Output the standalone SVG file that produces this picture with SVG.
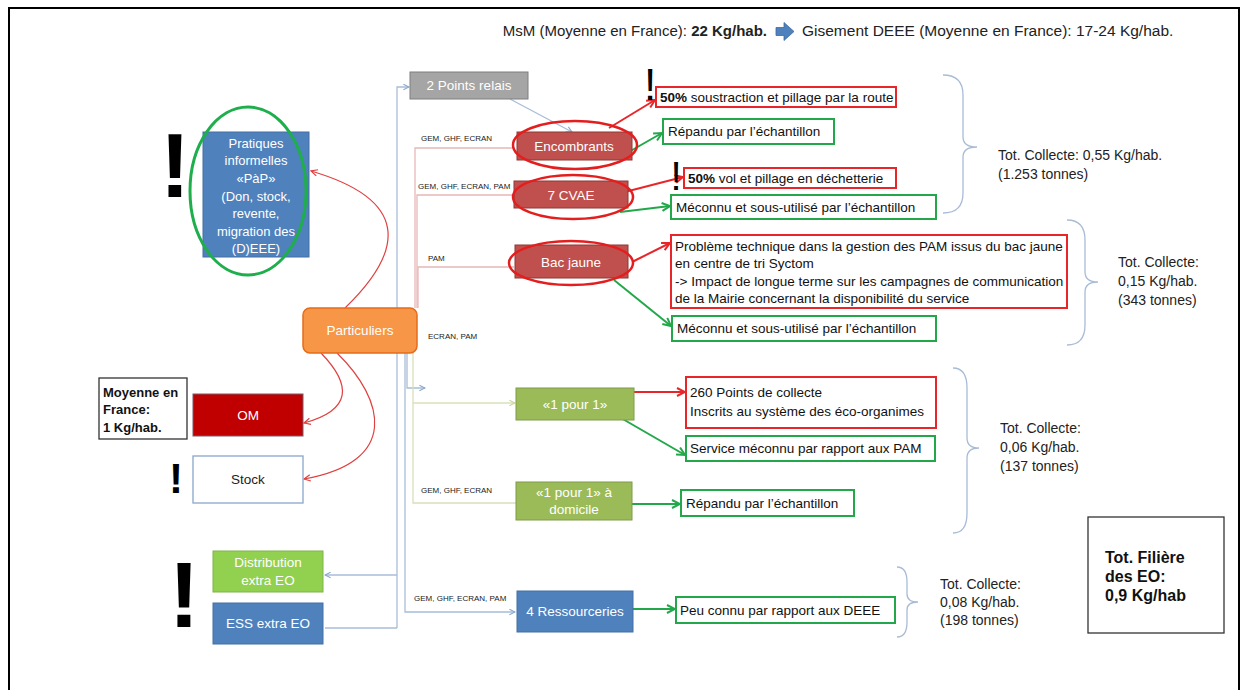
<svg xmlns="http://www.w3.org/2000/svg" width="1245" height="690" viewBox="0 0 1245 690">
<defs>
<style>
text{font-family:"Liberation Sans",Arial,sans-serif;}
.lbl{font-size:13.5px;fill:#fff;text-anchor:middle;}
.plbl{font-size:13px;fill:#fff;text-anchor:middle;}
.box{font-size:13.5px;fill:#111;}
.small{font-size:8px;fill:#222;}
.tot{font-size:14px;fill:#222;}
.red{fill:#fff;stroke:#e8262a;stroke-width:2;}
.grn{fill:#fff;stroke:#22a84a;stroke-width:2;}
.ell{fill:none;stroke:#e41e1e;stroke-width:2.5;}
.brace{fill:none;stroke:#a9bcd6;stroke-width:1.3;}
.bang{font-weight:bold;fill:#000;text-anchor:middle;}
.ar{fill:none;stroke:#e8262a;stroke-width:2;}
.ag{fill:none;stroke:#22a84a;stroke-width:2;}
.cr{fill:none;stroke:#e04040;stroke-width:1.2;}
.lb{fill:none;stroke:#a8bdd8;stroke-width:1.3;}
.lp{fill:none;stroke:#e6b8b8;stroke-width:1.3;}
.lo{fill:none;stroke:#d8e0b8;stroke-width:1.3;}
</style>
<marker id="mr" viewBox="0 0 10 10" refX="9" refY="5" markerWidth="10" markerHeight="10" markerUnits="userSpaceOnUse" orient="auto"><path d="M1,1 L9,5 L1,9" fill="none" stroke="#e8262a" stroke-width="2"/></marker>
<marker id="mg" viewBox="0 0 10 10" refX="9" refY="5" markerWidth="10" markerHeight="10" markerUnits="userSpaceOnUse" orient="auto"><path d="M1,1 L9,5 L1,9" fill="none" stroke="#22a84a" stroke-width="2"/></marker>
<marker id="mc" viewBox="0 0 10 10" refX="9" refY="5" markerWidth="8" markerHeight="8" markerUnits="userSpaceOnUse" orient="auto"><path d="M1,1 L9,5 L1,9" fill="none" stroke="#e04040" stroke-width="1.5"/></marker>
<marker id="mb" viewBox="0 0 10 10" refX="9" refY="5" markerWidth="7" markerHeight="7" markerUnits="userSpaceOnUse" orient="auto"><path d="M1,1 L9,5 L1,9" fill="none" stroke="#8aa6cc" stroke-width="1.5"/></marker>
<marker id="mo" viewBox="0 0 10 10" refX="9" refY="5" markerWidth="7" markerHeight="7" markerUnits="userSpaceOnUse" orient="auto"><path d="M1,1 L9,5 L1,9" fill="none" stroke="#c8d4a0" stroke-width="1.5"/></marker>
</defs>
<rect x="0" y="0" width="1245" height="690" fill="#fff"/>
<rect id="frame" x="9" y="8" width="1230" height="700" fill="none" stroke="#000" stroke-width="2"/>

<g id="header">
<text x="767" y="36" font-size="15" fill="#222" text-anchor="end">MsM (Moyenne en France): <tspan font-weight="bold">22 Kg/hab.</tspan></text>
<path d="M776,27.5 H784 V22.5 L794,31.5 L784,40.5 V35.5 H776 Z" fill="#4f81bd" stroke="#3c6aa3" stroke-width="0.8"/>
<text x="802" y="36" font-size="15.5" fill="#222">Gisement DEEE (Moyenne en France): 17-24 Kg/hab.</text>
</g>

<g id="connectors">
<path class="lb" d="M397,628 V87 H409" marker-end="url(#mb)"/>
<path class="lb" d="M397,575 H325" marker-end="url(#mb)"/>
<path class="lb" d="M397,628 H325"/>
<path class="lb" d="M510,99 L572,132" marker-end="url(#mb)"/>
<path class="lb" d="M405,353 V612 H515" marker-end="url(#mb)"/>
<path class="lb" d="M407,353 V388 H425" marker-end="url(#mb)"/>
<path class="lo" d="M413,353 V503 H516"/>
<path class="lo" d="M413,403 H515" marker-end="url(#mo)"/>
<path class="lp" d="M415,308 V148 H512"/>
<path class="lp" d="M417,308 V195 H513"/>
<path class="lp" d="M418,308 V267 H514"/>
<path class="cr" d="M345,308 C405,250 410,200 311,171" marker-end="url(#mc)"/>
<path class="cr" d="M321,353 C352,385 352,410 304,423" marker-end="url(#mc)"/>
<path class="cr" d="M337,353 C385,400 400,462 304,479" marker-end="url(#mc)"/>
<path class="ar" d="M609,128 L655,100" marker-end="url(#mr)"/>
<path class="ag" d="M620,157 L662,133" marker-end="url(#mg)"/>
<path class="ar" d="M617,194 L683,177" marker-end="url(#mr)"/>
<path class="ag" d="M620,212 L670,206" marker-end="url(#mg)"/>
<path class="ar" d="M632,262 L670,243" marker-end="url(#mr)"/>
<path class="ag" d="M614,280 L671,326" marker-end="url(#mg)"/>
<path class="ar" d="M634,392 L685,392" marker-end="url(#mr)"/>
<path class="ag" d="M621,418 L685,455" marker-end="url(#mg)"/>
<path class="ag" d="M621,504 L680,504" marker-end="url(#mg)"/>
<path class="ag" d="M633,609 L675,609" marker-end="url(#mg)"/>
</g>

<g id="labels">
<text class="small" x="421" y="141">GEM, GHF, ECRAN</text>
<text class="small" x="418" y="189">GEM, GHF, ECRAN, PAM</text>
<text class="small" x="428" y="261">PAM</text>
<text class="small" x="428" y="339">ECRAN, PAM</text>
<text class="small" x="421" y="493">GEM, GHF, ECRAN</text>
<text class="small" x="414" y="601">GEM, GHF, ECRAN, PAM</text>
</g>

<g id="pratiques">
<rect x="203" y="132" width="106" height="125" fill="#4f81bd" stroke="#456fa3" stroke-width="1"/>
<text class="plbl" x="256" y="148">Pratiques</text>
<text class="plbl" x="256" y="165">informelles</text>
<text class="plbl" x="256" y="183">«PàP»</text>
<text class="plbl" x="256" y="201">(Don, stock,</text>
<text class="plbl" x="256" y="218">revente,</text>
<text class="plbl" x="256" y="236">migration des</text>
<text class="plbl" x="256" y="253">(D)EEE)</text>
<ellipse cx="248" cy="191" rx="58" ry="84" fill="none" stroke="#1fae4c" stroke-width="3"/>
<text class="bang" x="175" y="197" font-size="90">!</text>
</g>

<g id="particuliers">
<rect x="303" y="308" width="114" height="45" rx="7" fill="#f79646" stroke="#e46c1a" stroke-width="1.5"/>
<text class="lbl" x="360" y="335">Particuliers</text>
</g>

<g id="moyenne">
<rect x="99" y="378" width="88" height="61" fill="#fff" stroke="#333" stroke-width="1.3"/>
<text x="103" y="397" font-size="13" font-weight="bold" fill="#111">Moyenne en</text>
<text x="103" y="414" font-size="13" font-weight="bold" fill="#111">France:</text>
<text x="103" y="432" font-size="13" font-weight="bold" fill="#111">1 Kg/hab.</text>
</g>

<g id="om">
<rect x="193" y="394" width="110" height="42" fill="#c00000" stroke="#7a5a6a" stroke-width="1"/>
<text class="lbl" x="248" y="420">OM</text>
</g>

<g id="stock">
<rect x="193" y="456" width="110" height="47" fill="#fff" stroke="#8aa6cc" stroke-width="1.3"/>
<text x="248" y="484" font-size="13.5" fill="#222" text-anchor="middle">Stock</text>
<text class="bang" x="176" y="493" font-size="42">!</text>
</g>

<g id="distribution">
<rect x="213" y="551" width="110" height="41" fill="#92d050" stroke="#7fb34a" stroke-width="1"/>
<text class="lbl" x="268" y="567">Distribution</text>
<text class="lbl" x="268" y="585">extra EO</text>
<text class="bang" x="184" y="627" font-size="92">!</text>
</g>

<g id="ess">
<rect x="213" y="603" width="110" height="41" fill="#4f81bd" stroke="#456fa3" stroke-width="1"/>
<text class="lbl" x="268" y="628">ESS extra EO</text>
</g>

<g id="points-relais">
<rect x="410" y="72" width="118" height="27" fill="#a5a5a5" stroke="#7f7f7f" stroke-width="1"/>
<text class="lbl" x="469" y="90">2 Points relais</text>
</g>

<g id="encombrants">
<rect x="517" y="132" width="115" height="28" fill="#c0504d" stroke="#8c3836" stroke-width="1"/>
<text class="lbl" x="574" y="151">Encombrants</text>
<ellipse class="ell" cx="575" cy="145" rx="62" ry="24"/>
</g>

<g id="cvae">
<rect x="514" y="181" width="114" height="27" fill="#c0504d" stroke="#8c3836" stroke-width="1"/>
<text class="lbl" x="571" y="200">7 CVAE</text>
<ellipse class="ell" cx="573" cy="197" rx="60" ry="22"/>
</g>

<g id="bac-jaune">
<rect x="515" y="245" width="113" height="33" fill="#c0504d" stroke="#8c3836" stroke-width="1"/>
<text class="lbl" x="571" y="267">Bac jaune</text>
<ellipse class="ell" cx="571" cy="263" rx="62" ry="22"/>
</g>

<g id="un-pour-un">
<rect x="516" y="388" width="118" height="32" fill="#9bbb59" stroke="#7f9a48" stroke-width="1"/>
<text class="lbl" x="575" y="409">«1 pour 1»</text>
</g>

<g id="domicile">
<rect x="516" y="482" width="116" height="38" fill="#9bbb59" stroke="#7f9a48" stroke-width="1"/>
<text class="lbl" x="574" y="497">«1 pour 1» à</text>
<text class="lbl" x="574" y="514">domicile</text>
</g>

<g id="ressourceries">
<rect x="517" y="591" width="116" height="41" fill="#4f81bd" stroke="#456fa3" stroke-width="1"/>
<text class="lbl" x="575" y="616">4 Ressourceries</text>
</g>

<g id="n-soustraction">
<rect class="red" x="656" y="87" width="240" height="20"/>
<text class="box" x="660" y="102"><tspan font-weight="bold">50%</tspan> soustraction et pillage par la route</text>
<text x="650" y="100" font-size="44" fill="#000" text-anchor="middle">!</text>
</g>

<g id="n-repandu1">
<rect class="grn" x="663" y="119" width="171" height="25"/>
<text class="box" x="668" y="136">Répandu par l’échantillon</text>
</g>

<g id="n-vol">
<rect class="red" x="684" y="168" width="212" height="20"/>
<text class="box" x="688" y="183"><tspan font-weight="bold">50%</tspan> vol et pillage en déchetterie</text>
<text x="676" y="190" font-size="40" fill="#000" text-anchor="middle">!</text>
</g>

<g id="n-meconnu1">
<rect class="grn" x="671" y="195" width="265" height="24"/>
<text class="box" x="676" y="212">Méconnu et sous-utilisé par l’échantillon</text>
</g>

<g id="n-probleme">
<rect class="red" x="671" y="235" width="396" height="73"/>
<text class="box" x="675" y="251">Problème technique dans la gestion des PAM issus du bac jaune</text>
<text class="box" x="675" y="268">en centre de tri Syctom</text>
<text class="box" x="675" y="286">-&gt; Impact de longue terme sur les campagnes de communication</text>
<text class="box" x="675" y="303">de la Mairie concernant la disponibilité du service</text>
</g>

<g id="n-meconnu2">
<rect class="grn" x="672" y="316" width="264" height="25"/>
<text class="box" x="677" y="333">Méconnu et sous-utilisé par l’échantillon</text>
</g>

<g id="n-260">
<rect class="red" x="686" y="377" width="250" height="51"/>
<text class="box" x="690" y="397">260 Points de collecte</text>
<text class="box" x="690" y="416">Inscrits au système des éco-organimes</text>
</g>

<g id="n-service">
<rect class="grn" x="686" y="436" width="249" height="25"/>
<text class="box" x="690" y="453">Service méconnu par rapport aux PAM</text>
</g>

<g id="n-repandu2">
<rect class="grn" x="681" y="490" width="173" height="26"/>
<text class="box" x="686" y="508">Répandu par l’échantillon</text>
</g>

<g id="n-peu">
<rect class="grn" x="676" y="597" width="219" height="26"/>
<text class="box" x="680" y="615">Peu connu par rapport aux DEEE</text>
</g>

<g id="totals">
<path class="brace" d="M943,75 Q963,75 963,95 V137 Q963,147 977,147 Q963,147 963,157 V193 Q963,213 943,213"/>
<text class="tot" x="998" y="160">Tot. Collecte: 0,55 Kg/hab.</text>
<text class="tot" x="998" y="179">(1.253 tonnes)</text>
<path class="brace" d="M1067,220 Q1085,220 1085,240 V272 Q1085,282 1098,282 Q1085,282 1085,292 V325 Q1085,345 1067,345"/>
<text class="tot" x="1118" y="267">Tot. Collecte:</text>
<text class="tot" x="1118" y="286">0,15 Kg/hab.</text>
<text class="tot" x="1118" y="305">(343 tonnes)</text>
<path class="brace" d="M953,368 Q967,368 967,388 V438 Q967,448 979,448 Q967,448 967,458 V513 Q967,533 953,533"/>
<text class="tot" x="1000" y="433">Tot. Collecte:</text>
<text class="tot" x="1000" y="452">0,06 Kg/hab.</text>
<text class="tot" x="1000" y="471">(137 tonnes)</text>
<path class="brace" d="M897,567 Q907,567 907,582 V594 Q907,602 918,602 Q907,602 907,610 V622 Q907,637 897,637"/>
<text class="tot" x="940" y="589">Tot. Collecte:</text>
<text class="tot" x="940" y="607">0,08 Kg/hab.</text>
<text class="tot" x="940" y="625">(198 tonnes)</text>
</g>

<g id="total-filiere">
<rect x="1088" y="517" width="136" height="116" fill="#fff" stroke="#333" stroke-width="1.3"/>
<text x="1105" y="563" font-size="16" font-weight="bold" fill="#111">Tot. Filière</text>
<text x="1105" y="582" font-size="16" font-weight="bold" fill="#111">des EO:</text>
<text x="1105" y="601" font-size="16" font-weight="bold" fill="#111">0,9 Kg/hab</text>
</g>
</svg>
